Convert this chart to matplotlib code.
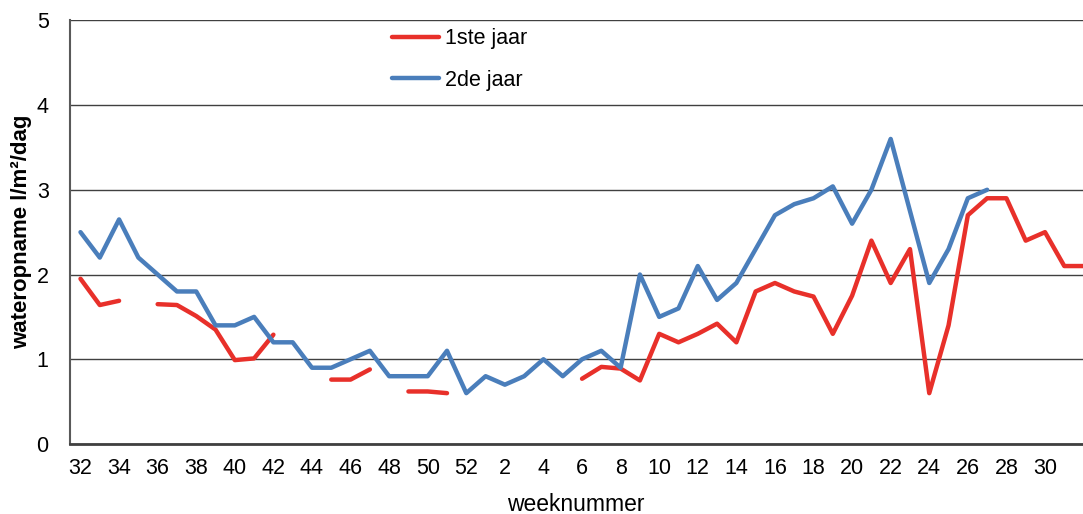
import numpy as np
import matplotlib
matplotlib.use("Agg")
import matplotlib.pyplot as plt

plt.rcParams['font.family'] = ['Liberation Sans', 'DejaVu Sans']

# Week numbers (category axis): 32..52 then 1..32
weeks = list(range(32, 53)) + list(range(1, 33))

nan = np.nan
# 1ste jaar (red)
jaar1 = [1.95, 1.64, 1.69, nan, 1.65, 1.64, 1.51, 1.35, 0.99, 1.01, 1.29,
         nan, nan, 0.76, 0.76, 0.88, nan, 0.62, 0.62, 0.60, nan,
         nan, nan, nan, nan, nan, 0.77, 0.91, 0.89, 0.75, 1.30, 1.20, 1.30,
         1.42, 1.20, 1.80, 1.90, 1.80, 1.74, 1.30, 1.75, 2.40, 1.90, 2.30,
         0.60, 1.40, 2.70, 2.90, 2.90, 2.40, 2.50, 2.10, 2.10]
# 2de jaar (blue)
jaar2 = [2.50, 2.20, 2.65, 2.20, 2.00, 1.80, 1.80, 1.40, 1.40, 1.50, 1.20,
         1.20, 0.90, 0.90, 1.00, 1.10, 0.80, 0.80, 0.80, 1.10, 0.60,
         0.80, 0.70, 0.80, 1.00, 0.80, 1.00, 1.10, 0.90, 2.00, 1.50, 1.60,
         2.10, 1.70, 1.90, 2.30, 2.70, 2.83, 2.90, 3.04, 2.60, 3.00, 3.60,
         2.75, 1.90, 2.30, 2.90, 3.00, nan, nan, nan, nan, nan]

labels = ["1ste jaar", "2de jaar"]
colors = ["#E8302A", "#4A7EBB"]
ylabel = "wateropname l/m\u00b2/dag"
xlabel = "weeknummer"

W, H = 1083, 514
fig = plt.figure(figsize=(W / 100, H / 100), dpi=100)
ax = fig.add_axes([69.5 / W, (H - 444) / H, (W - 69.5) / W, (444 - 20.3) / H])

x = np.arange(len(weeks))
for vals, lab, col in zip([jaar1, jaar2], labels, colors):
    ax.plot(x, np.array(vals, dtype=float), color=col, lw=3.2, label=lab,
            solid_joinstyle='round', solid_capstyle='round', zorder=3)

ax.set_xlim(-0.57, 51.97)
ax.set_ylim(0, 5)
ax.set_yticks(range(0, 6))
tick_idx = x[:51:2]
ax.set_xticks(tick_idx)
ax.set_xticklabels([str(weeks[i]) for i in tick_idx])
ax.tick_params(axis='both', length=0, labelsize=15.5)
ax.tick_params(axis='y', pad=15)
ax.tick_params(axis='x', pad=10)

ax.grid(axis='y', color='#404040', lw=1.0, zorder=1)
ax.set_axisbelow(True)
for s in ['top', 'right']:
    ax.spines[s].set_visible(False)
ax.spines['left'].set_color('#595959')
ax.spines['left'].set_linewidth(1.5)
ax.spines['bottom'].set_color('#404040')
ax.spines['bottom'].set_linewidth(2.0)

ax.set_xlabel(xlabel, fontsize=16.5, labelpad=10)
ax.set_ylabel(ylabel, fontsize=16, fontweight='bold', labelpad=3)

leg = ax.legend(loc='center left', bbox_to_anchor=(392 / W, (H - 59.5) / H),
                bbox_transform=fig.transFigure, frameon=False, fontsize=15.5,
                handlelength=2.2, handletextpad=0.25, labelspacing=0.95,
                borderpad=0, borderaxespad=0)

fig.savefig("out.png", dpi=100)
